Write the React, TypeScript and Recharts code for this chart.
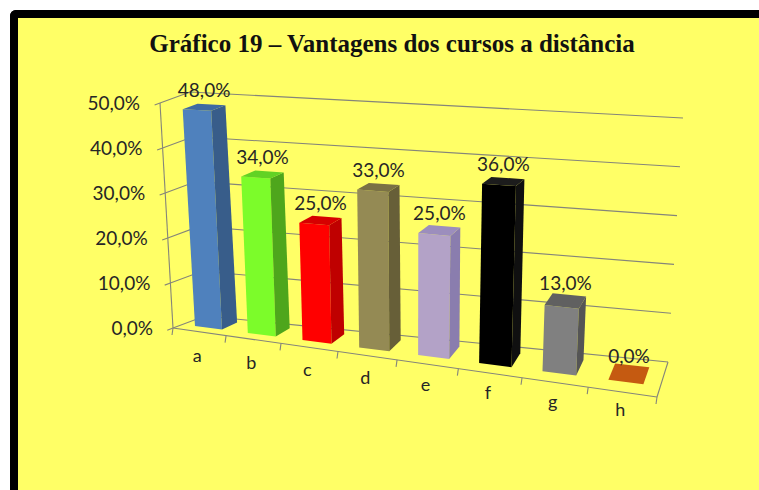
import React from "react";
import { BarChart, Bar, XAxis, YAxis, CartesianGrid, LabelList } from "recharts";

// data
const categories = ["a", "b", "c", "d", "e", "f", "g", "h"];
const values = [0.48, 0.34, 0.25, 0.33, 0.25, 0.36, 0.13, 0.0];
const yTicks = [0, 0.1, 0.2, 0.3, 0.4, 0.5];

const data = categories.map((cat, i) => ({ cat, value: values[i] }));

// front, side, top colours per bar
const faceColors = [
  ["#4F81BD", "#385D8A", "#3F6AA2"],
  ["#7CFC2A", "#4EA61C", "#62D224"],
  ["#FF0000", "#BF0000", "#D60000"],
  ["#948A54", "#675F38", "#7A7145"],
  ["#B3A2C7", "#8A7DAE", "#9C8EBD"],
  ["#000000", "#101010", "#1C1C1C"],
  ["#808080", "#555555", "#606060"],
  ["#C55A11", "#A84B0C", "#C2560E"],
];

const W = 759;
const H = 490;
const M = { top: 90, right: 100, bottom: 70, left: 40 };
const Y_AXIS_W = 60;
const X_AXIS_H = 30;
const PX0 = M.left + Y_AXIS_W;
const PW = W - M.right - PX0;
const PY0 = M.top;
const PH = H - M.bottom - X_AXIS_H - PY0;
const PY1 = PY0 + PH;

const GRID = "#85857A";
const TEXT = "#262626";
const FONT = "Lato, 'Open Sans', sans-serif";

// pseudo 3D box: front plane (depth 0) and back wall (depth 1)
type Pt = [number, number];
const FBL: Pt = [173, 328];
const FBR: Pt = [657, 397];
const FTL: Pt = [160, 103];
const FTR: Pt = [672, 125];
const BBL: Pt = [205, 316];
const BBR: Pt = [668, 362];
const BTL: Pt = [190, 92];
const BTR: Pt = [683, 118];
const PERSP = -0.138;
const D0 = 0.3;
const D1 = 0.8;

const lerp = (a: Pt, b: Pt, k: number): Pt => [a[0] + (b[0] - a[0]) * k, a[1] + (b[1] - a[1]) * k];

function project(u: number, t: number, d: number): Pt {
  const g = (u * (1 + PERSP)) / (1 + PERSP * u);
  const front = lerp(lerp(FBL, FTL, t), lerp(FBR, FTR, t), g);
  const back = lerp(lerp(BBL, BTL, t), lerp(BBR, BTR, t), g);
  return lerp(front, back, d);
}

const toU = (x: number) => (x - PX0) / PW;
const toT = (y: number) => (PY1 - y) / PH;
const poly = (pts: Pt[]) => pts.map((p) => p[0].toFixed(1) + "," + p[1].toFixed(1)).join(" ");
const pct = (v: number) => (v * 100).toFixed(1).replace(".", ",") + "%";

const GridLine = (props: any) => {
  const t = toT(props.y1);
  const a = project(0, t, 0);
  const b = project(0, t, 1);
  const c = project(1, t, 1);
  return (
    <g key={"grid-" + props.index}>
      <polyline points={poly([a, b, c])} fill="none" stroke={GRID} strokeWidth={1.1} />
      {Math.abs(t) < 0.001 && (
        <line x1={c[0]} y1={c[1]} x2={project(1, 0, 0)[0]} y2={project(1, 0, 0)[1]} stroke={GRID} strokeWidth={1.1} />
      )}
    </g>
  );
};

const XTick = (props: any) => {
  const { x, payload, index } = props;
  const n = categories.length;
  const uc = toU(x);
  const c = project(uc, 0, 0);
  const r = project(uc + 0.5 / n, 0, 0);
  const l0 = project(0, 0, 0);
  const r0 = project(1, 0, 0);
  const top = project(0, 1, 0);
  return (
    <g>
      {index === 0 && (
        <g>
          <line x1={l0[0]} y1={l0[1]} x2={r0[0]} y2={r0[1]} stroke={GRID} strokeWidth={1.1} />
          <line x1={l0[0]} y1={l0[1]} x2={top[0]} y2={top[1]} stroke={GRID} strokeWidth={1.1} />
          <line x1={l0[0]} y1={l0[1]} x2={l0[0] - 1} y2={l0[1] + 7} stroke={GRID} strokeWidth={1.1} />
        </g>
      )}
      <line x1={r[0]} y1={r[1]} x2={r[0] - 1} y2={r[1] + 7} stroke={GRID} strokeWidth={1.1} />
      <text x={c[0] - 2} y={c[1] + 31 - 7 * uc} textAnchor="middle" fill={TEXT} fontSize={18} fontFamily={FONT}>
        {payload.value}
      </text>
    </g>
  );
};

const YTick = (props: any) => {
  const { y, payload } = props;
  const t = toT(y);
  const p = project(0, t, 0);
  const q = project(0, t, -0.18);
  return (
    <g>
      <line x1={p[0]} y1={p[1]} x2={q[0]} y2={q[1]} stroke={GRID} strokeWidth={1.1} />
      <text x={p[0] - 20} y={p[1] + 6.5} textAnchor="end" fill={TEXT} fontSize={19} fontFamily={FONT}>
        {pct(payload.value)}
      </text>
    </g>
  );
};

const Bar3D = (props: any) => {
  const { x, y, width, index } = props;
  const u0 = toU(x);
  const u1 = toU(x + width);
  const t = Math.max(0, toT(y));
  const [front, side, top] = faceColors[index % faceColors.length];
  const f = [project(u0, 0, D0), project(u1, 0, D0), project(u1, t, D0), project(u0, t, D0)];
  const s = [project(u1, 0, D0), project(u1, 0, D1), project(u1, t, D1), project(u1, t, D0)];
  const tp = [project(u0, t, D0), project(u1, t, D0), project(u1, t, D1), project(u0, t, D1)];
  return (
    <g>
      {t > 0 && <polygon points={poly(f)} fill={front} />}
      {t > 0 && <polygon points={poly(s)} fill={side} />}
      <polygon points={poly(tp)} fill={t > 0 ? top : front} />
    </g>
  );
};

const ValueLabel = (props: any) => {
  const vb = props.viewBox || props;
  const uc = toU(vb.x + vb.width / 2);
  const t = Math.max(0, toT(vb.y));
  const p = project(uc, t, 0.55);
  return (
    <text x={p[0]} y={p[1] - 10.5} textAnchor="middle" fill={TEXT} fontSize={19} fontFamily={FONT}>
      {pct(Number(props.value))}
    </text>
  );
};

export default function App() {
  return (
    <div style={{ position: "absolute", left: 0, top: 0, width: W, height: H, overflow: "hidden", background: "#fff" }}>
      <style>{"html, body { overflow: hidden; }"}</style>
      {/* frame: only top and left edges show, the rest runs off the page */}
      <div
        style={{
          position: "absolute",
          left: 10,
          top: 10,
          width: W - 10,
          height: H - 10,
          boxSizing: "border-box",
          borderTop: "8px solid #000",
          borderLeft: "8px solid #000",
          borderTopLeftRadius: 6,
          background: "#FFFF66",
        }}
      />
      <div
        style={{
          position: "absolute",
          left: 0,
          top: 28,
          width: 784,
          textAlign: "center",
          fontFamily: "'Liberation Serif', 'Times New Roman', serif",
          fontWeight: "bold",
          fontSize: 25,
          lineHeight: "32px",
          color: "#111",
        }}
      >
        Gráfico 19 – Vantagens dos cursos a distância
      </div>
      <div style={{ position: "absolute", left: 0, top: 0 }}>
        <BarChart width={W} height={H} data={data} margin={M} barCategoryGap="24%">
          <CartesianGrid vertical={false} horizontal={GridLine} />
          <XAxis dataKey="cat" height={X_AXIS_H} axisLine={false} tickLine={false} tick={XTick} interval={0} />
          <YAxis
            width={Y_AXIS_W}
            domain={[0, 0.5]}
            ticks={yTicks}
            interval={0}
            axisLine={false}
            tickLine={false}
            tick={YTick}
          />
          <Bar dataKey="value" shape={Bar3D} isAnimationActive={false}>
            <LabelList dataKey="value" content={ValueLabel} />
          </Bar>
        </BarChart>
      </div>
    </div>
  );
}
